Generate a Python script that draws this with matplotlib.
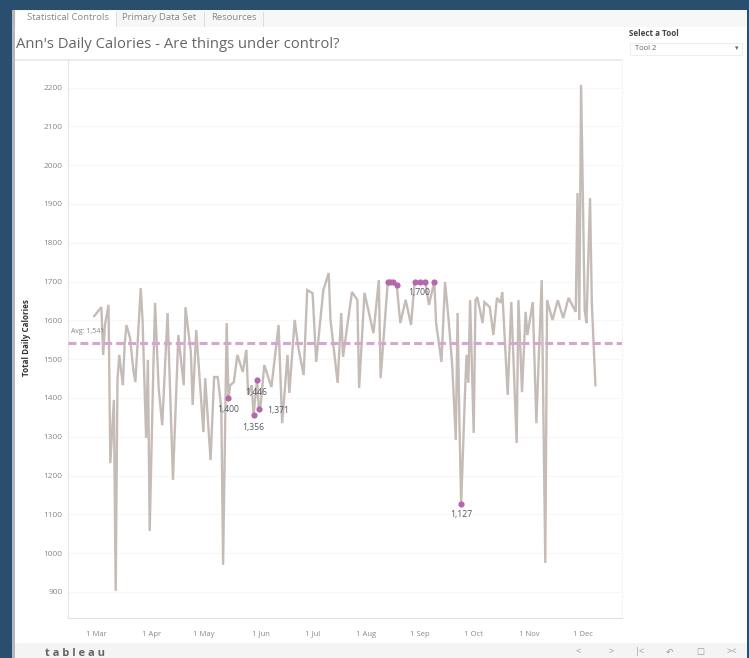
from matplotlib import pyplot as plt
from matplotlib.patches import Rectangle
import numpy as np

# day 0 = 1 Mar
days = [-1,3,4,5,7,8,10,11,12,13,15,16,17,19,21,22,25,26,28,29,30,32,33,35,37,40,43,46,49,50,53,54,56,60,61,64,66,68,
        70,71,73,74,75,77,79,82,84,85,87,88,90,91,92,94,98,102,104,107,108,111,113,116,118,121,123,127,130,131,135,
        137,138,143,146,147,150,155,158,159,163,164,166,168,170,173,176,178,181,184,186,189,190,193,195,197,199,201,
        202,203,204,206,207,208,209,211,212,213,216,217,220,222,224,226,227,230,232,235,236,238,240,241,244,246,249,
        251,252,255,258,261,264,266,268,269,270,271,273,274,276,277,279]
calories = [1611,1634,1511,1588,1640,1232,1395,903,1446,1511,1433,1537,1588,1555,1467,1441,1683,1601,1297,1498,1057,
            1472,1645,1426,1330,1619,1189,1562,1433,1634,1518,1382,1575,1312,1451,1240,1454,1454,1374,970,1593,1400,
            1433,1441,1511,1467,1524,1408,1433,1356,1446,1371,1382,1485,1428,1588,1335,1511,1413,1601,1531,1459,1678,
            1670,1493,1678,1722,1601,1439,1619,1506,1673,1653,1426,1671,1567,1704,1451,1699,1699,1699,1691,1593,1653,
            1588,1699,1699,1699,1640,1700,1593,1493,1699,1601,1485,1292,1619,1343,1127,1395,1511,1439,1652,1310,1652,
            1660,1593,1647,1634,1562,1658,1645,1673,1408,1647,1284,1652,1415,1622,1562,1647,1335,1704,975,1652,1601,
            1652,1606,1658,1640,1622,1928,1601,2207,1627,1593,1915,1645,1433]

outlier_days = [163,164,166,168,178,181,184]
outlier_vals = [1699,1699,1699,1691,1699,1699,1699]
label_days = [74,88,90,91,189,204]
label_vals = [1400,1356,1446,1371,1700,1127]
label_off = [(0,-12),(0,-12),(-1,-12),(19,-1),(-15,-11),(0,-11)]

avg = 1541
y_ticks = list(range(900,2300,100))
month_pos = [0,31,60,92,121,151,181,211,242,272]
month_names = ['1 Mar','1 Apr','1 May','1 Jun','1 Jul','1 Aug','1 Sep','1 Oct','1 Nov','1 Dec']

W,H = 749,658
fig = plt.figure(figsize=(W/100,H/100),dpi=100,facecolor='#2a4e6e')
plt.rcParams['font.family'] = ['Open Sans','DejaVu Sans']

def box(x0,y0,x1,y1,c):
    fig.patches.append(Rectangle((x0/W,1-y1/H),(x1-x0)/W,(y1-y0)/H,transform=fig.transFigure,fc=c,ec='none',zorder=-1))

def txt(x,y,s,size=5,c='#777777',**kw):
    fig.text(x/W,1-y/H,s,fontsize=size,color=c,va='center',**kw)

box(12,10,747,658,'#ffffff')
box(12,10,15,658,'#b5b8ba')
box(15,10,747,27,'#f7f7f7')
box(16,11,116,27,'#ffffff')
box(116,12,117,27,'#dddddd')
box(204,12,205,27,'#dddddd')
box(263,12,264,27,'#dddddd')
box(15,643,747,658,'#f4f4f4')
box(15,59,622,61,'#ececec')

txt(27,18,'Statistical Controls',6.8,'#888888')
txt(122,18,'Primary Data Set',6.8,'#888888')
txt(211,18,'Resources',6.8,'#888888')
txt(16,44,"Ann's Daily Calories - Are things under control?",10.7,'#666666')
txt(629,34,'Select a Tool',5.8,'#444444',fontweight='bold')
fig.patches.append(Rectangle((630/W,1-55/H),112/W,12/H,transform=fig.transFigure,fc='white',ec='#eeeeee',lw=0.8,zorder=-1))
txt(635,49,'Tool 2',5.5,'#666666')
txt(735,49,'\u25be',5,'#666666')
txt(45,653,'t a b l e a u',8,'#666666',fontweight='bold')
for x,s in zip([578,611,640,670,700,732],['<','>','|<','\u21b6','\u2610','><']):
    txt(x,652,s,6.5,'#999999',ha='center')

ax = fig.add_axes([68/W,1-618/H,554/W,558/H])
ax.patch.set_alpha(0)
ax.set_xlim((68-96)/1.79,(622-96)/1.79)
ax.set_ylim(900-26*2.577,900+532*2.577)

ax.plot(days,calories,color='#c6bcb7',lw=1.7,solid_joinstyle='miter',zorder=3)
ax.axhline(avg,color='#d5a6d0',lw=2.2,dashes=(2.6,1.3),zorder=4)
ax.scatter(outlier_days,outlier_vals,s=20,color='#b567ad',zorder=5,linewidths=0)
ax.scatter(label_days,label_vals,s=20,color='#b567ad',zorder=5,linewidths=0)
for d,v,o in zip(label_days,label_vals,label_off):
    ax.annotate(f'{v:,}',(d,v),xytext=(o[0]*0.72,o[1]*0.72),textcoords='offset points',
                fontsize=6.2,color='#555566',ha='center',va='center',zorder=6)
ax.text(-14,avg+22,'Avg: 1,541',fontsize=5,color='#888888',va='bottom')

ax.set_yticks(y_ticks)
ax.set_yticklabels([str(v) for v in y_ticks],fontsize=6,color='#888888')
ax.set_xticks(month_pos)
ax.set_xticklabels(month_names,fontsize=5.5,color='#888888')
ax.tick_params(length=0,pad=4)
ax.tick_params(axis='x',pad=9)
ax.grid(axis='y',color='#f7f7f7',lw=0.8)
ax.set_axisbelow(True)
for s in ['top']:
    ax.spines[s].set_visible(False)
ax.spines['right'].set_color('#f6f6f6')
ax.spines['left'].set_color('#e6e6e6')
ax.spines['bottom'].set_color('#e2e2e2')

txt(27,338,'Total Daily Calories',5.8,'#333333',rotation=90,ha='center',fontweight='bold')

fig.savefig('out.png',dpi=100,facecolor=fig.get_facecolor())
